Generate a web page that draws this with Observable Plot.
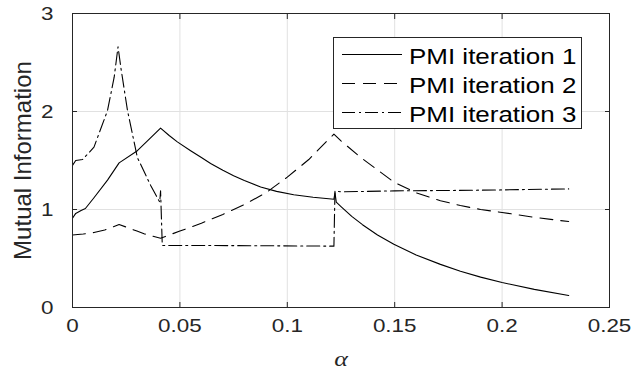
<!DOCTYPE html>
<html><head><meta charset="utf-8">
<script src="https://cdn.jsdelivr.net/npm/d3@7"></script>
<script src="https://cdn.jsdelivr.net/npm/@observablehq/plot@0.6"></script>
<style>
html,body{margin:0;padding:0;background:#fff;}
#wrap{position:relative;width:636px;height:375px;overflow:hidden;background:#fff;}
#legend{position:absolute;left:333px;top:37px;}
</style></head><body><div id="wrap"></div>
<script>
// Axis ticks
const xTicks = [0, 0.05, 0.1, 0.15, 0.2, 0.25];
const xTickLabels = ["0", "0.05", "0.1", "0.15", "0.2", "0.25"];
const yTicks = [0, 1, 2, 3];
const yTickLabels = ["0", "1", "2", "3"];
const seriesNames = ["PMI iteration 1", "PMI iteration 2", "PMI iteration 3"];

// PMI iteration 1 (solid)
const alpha1 = [0, 0.0015, 0.004, 0.006, 0.010, 0.0163, 0.0217, 0.0302, 0.0349, 0.041, 0.045, 0.0488, 0.055, 0.060, 0.0643, 0.070, 0.075, 0.080, 0.0876, 0.095, 0.103, 0.112, 0.1217, 0.1222, 0.1228, 0.125, 0.130, 0.135, 0.142, 0.1496, 0.160, 0.1713, 0.1806, 0.190, 0.200, 0.215, 0.231];
const mi1    = [0.91, 0.96, 0.99, 1.01, 1.12, 1.30, 1.476, 1.60, 1.70, 1.83, 1.755, 1.69, 1.60, 1.53, 1.47, 1.40, 1.345, 1.295, 1.23, 1.185, 1.15, 1.125, 1.105, 1.17, 1.075, 1.03, 0.93, 0.845, 0.74, 0.645, 0.535, 0.44, 0.37, 0.31, 0.255, 0.185, 0.122];

// PMI iteration 2 (dashed)
const alpha2 = [0, 0.005, 0.010, 0.015, 0.0217, 0.030, 0.0333, 0.041, 0.050, 0.060, 0.070, 0.080, 0.090, 0.100, 0.110, 0.1217, 0.125, 0.134, 0.1496, 0.160, 0.1713, 0.1806, 0.190, 0.200, 0.215, 0.231];
const mi2    = [0.74, 0.75, 0.765, 0.79, 0.847, 0.78, 0.752, 0.707, 0.78, 0.86, 0.95, 1.05, 1.17, 1.33, 1.51, 1.77, 1.70, 1.534, 1.28, 1.17, 1.09, 1.04, 1.00, 0.97, 0.92, 0.877];

// PMI iteration 3 (dash-dot)
const alpha3 = [0, 0.0015, 0.0047, 0.010, 0.0163, 0.0194, 0.0212, 0.0225, 0.0256, 0.0302, 0.0364, 0.0406, 0.0410, 0.0418, 0.060, 0.090, 0.1217, 0.1222, 0.125, 0.150, 0.180, 0.200, 0.231];
const mi3    = [1.45, 1.50, 1.51, 1.636, 2.01, 2.35, 2.66, 2.45, 2.01, 1.53, 1.245, 1.075, 1.19, 0.633, 0.633, 0.63, 0.626, 1.19, 1.18, 1.19, 1.195, 1.20, 1.21];

const toRows = (xs, ys) => xs.map((a, i) => ({alpha: a, mi: ys[i]}));
const s1 = toRows(alpha1, mi1), s2 = toRows(alpha2, mi2), s3 = toRows(alpha3, mi3);

const dashes = [null, "13,8", "13,4,2,4"];
const axisColor = "#262626";
const gridColor = "#e1e1e1";
const S = 1.18; // horizontal text stretch of the reference

const chart = Plot.plot({
  width: 636, height: 375,
  marginLeft: 72, marginRight: 27, marginTop: 13, marginBottom: 68,
  style: {fontFamily: "'Liberation Sans', Arial, sans-serif", fontSize: "19px", color: axisColor, background: "white", overflow: "visible"},
  x: {domain: [0, 0.25]},
  y: {domain: [0, 3]},
  marks: [
    Plot.gridX(xTicks.slice(1, -1), {stroke: gridColor, strokeOpacity: 1}),
    Plot.gridY(yTicks.slice(1, -1), {stroke: gridColor, strokeOpacity: 1}),
    Plot.line(s1, {x: "alpha", y: "mi", stroke: "black", strokeWidth: 1.1}),
    Plot.line(s2, {x: "alpha", y: "mi", stroke: "black", strokeWidth: 1.1, strokeDasharray: dashes[1]}),
    Plot.line(s3, {x: "alpha", y: "mi", stroke: "black", strokeWidth: 1.1, strokeDasharray: dashes[2]}),
    Plot.frame({stroke: axisColor, strokeWidth: 1}),
    // inward ticks on all four sides
    Plot.axisX(xTicks, {anchor: "bottom", tickSize: 5, dy: -5, tickFormat: () => "", label: null, stroke: axisColor}),
    Plot.axisX(xTicks, {anchor: "top", tickSize: 5, dy: 5, tickFormat: () => "", label: null, stroke: axisColor}),
    Plot.axisY(yTicks, {anchor: "left", tickSize: 5, dx: 5, tickFormat: () => "", label: null, stroke: axisColor}),
    Plot.axisY(yTicks, {anchor: "right", tickSize: 5, dx: -5, tickFormat: () => "", label: null, stroke: axisColor}),
    // labels
    Plot.axisX(xTicks, {anchor: "bottom", tickSize: 0, tickPadding: 11, tickFormat: (d, i) => xTickLabels[i],
      label: "α", labelAnchor: "center", labelArrow: "none", labelOffset: 58}),
    Plot.axisY(yTicks, {anchor: "left", tickSize: 0, tickPadding: 19, tickFormat: (d, i) => yTickLabels[i],
      label: "Mutual Information", labelAnchor: "center", labelArrow: "none", labelOffset: 59})
  ]
});

const wrap = document.getElementById("wrap");
wrap.appendChild(chart);

// style axis labels
const xl = chart.querySelector('[aria-label="x-axis label"]');
if (xl) { xl.setAttribute("font-family", "'Liberation Serif', 'Times New Roman', serif"); xl.setAttribute("font-style", "italic"); xl.setAttribute("font-size", "22px"); }
const yl = chart.querySelector('[aria-label="y-axis label"]');
if (yl) { yl.setAttribute("font-size", "24px"); }

// Legend
const lgW = 248, lgH = 91;
const legend = d3.create("svg").attr("id", "legend").attr("width", lgW + 1).attr("height", lgH + 1)
  .style("font-family", "'Liberation Sans', Arial, sans-serif").style("font-size", "22px");
legend.append("rect").attr("x", 0.5).attr("y", 0.5).attr("width", lgW).attr("height", lgH)
  .attr("fill", "white").attr("stroke", axisColor).attr("stroke-width", 1);
seriesNames.forEach((name, i) => {
  const cy = 17.5 + i * 29;
  legend.append("line").attr("x1", 9).attr("x2", 69).attr("y1", cy).attr("y2", cy)
    .attr("stroke", "black").attr("stroke-width", 1.1).attr("stroke-dasharray", dashes[i]);
  legend.append("text").attr("x", 76).attr("y", cy + 1.5).attr("dy", "0.35em").attr("fill", "#000").text(name);
});
wrap.appendChild(legend.node());

// horizontal stretch of horizontal text
function stretch(root) {
  root.querySelectorAll("text").forEach(t => {
    if (t.closest('[aria-label="y-axis label"]')) return;
    const len = t.getComputedTextLength();
    if (len > 0) { t.setAttribute("textLength", len * S); t.setAttribute("lengthAdjust", "spacingAndGlyphs"); }
  });
}
stretch(chart);
stretch(legend.node());
</script>
</body></html>
